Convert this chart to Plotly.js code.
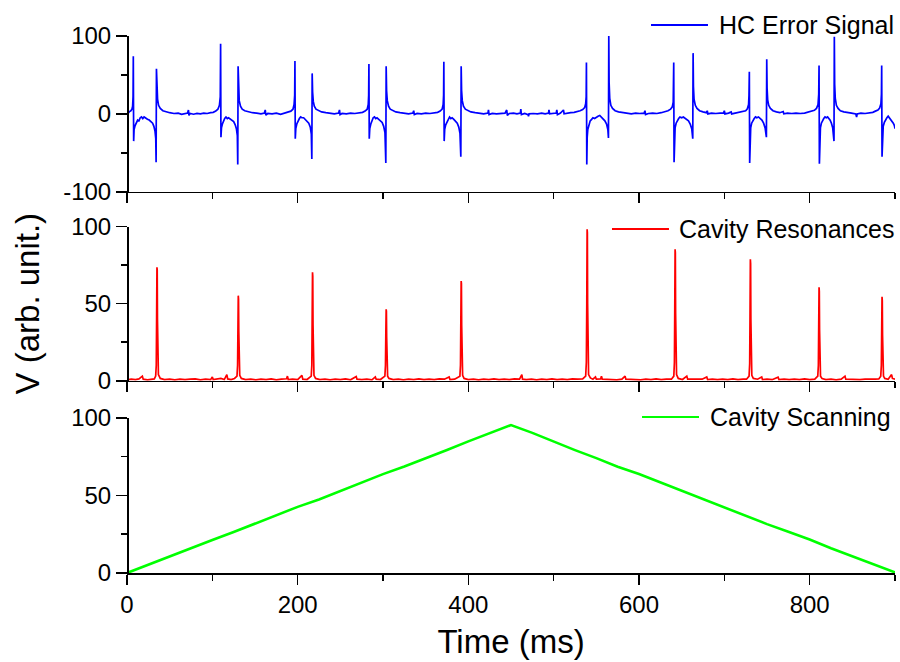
<!DOCTYPE html>
<html><head><meta charset="utf-8">
<script src="https://cdn.plot.ly/plotly-3.0.1.min.js"></script>
<style>html,body{margin:0;padding:0;background:#fff}#chart{width:900px;height:662px}</style>
</head><body><div id="chart"></div>
<script>
// ---- HC Error Signal (time in ms, value in arb. unit) ----
const errorTime = [0,1.5,3,4.5,5.8,6.6,7.1,7.4,7.8,8.3,9.5,11,12.5,14,15.5,17,18.5,20,22,24,26,28,30,31.5,32.8,33.7,34.1,34.5,35,35.8,37,39,42,46,50,55,
60,64,68,71,72,72.6,74,78,82,86,90,94,98,101,104,106.5,108.3,109.3,109.7,110.1,110.7,111.8,113,114.5,116,117.5,119,121,123,125,126.8,128.2,129.3,129.8,130.2,130.7,131.5,133,135,138,142,147,152,157,161,162,162.7,165,170,175,180,185,189,192,194.5,195.8,196.5,196.8,197.2,197.8,199,200.5,202,203.5,205,207,209,211,213,214.8,216,216.6,217,217.5,218.3,219.5,221.5,224.5,228,233,238,243,248,249,249.7,252,257,262,267,272,276,279,281.5,282.7,283.2,283.5,283.9,284.5,285.7,287,288.5,290,291.5,293,295,297,299,300.8,302.3,303.3,303.7,304.2,305,306.5,308.5,311.5,315,320,325,330,335,336,336.7,340,345,350,355,360,364,367,369.3,370.5,371,371.3,371.7,372.3,373.5,375,376.5,378,379.5,381,383,385,387,388.8,390.2,391.2,391.6,392.1,392.9,394.3,396.5,399.5,403,408,413,418,423,423.6,424.3,428,433,438,443,445,445.7,448,453,457,461,461.5,462.2,466,470,470.5,471.2,476,481,486,490,494,494.5,495.2,499,503,503.7,504.4,508,511.5,512.2,516,520,524,528,531,534,536.3,537.5,538.1,538.4,538.8,539.3,540,541.3,542.8,544.5,546,548,550,552,554,556,558,560,562,563.5,564.2,564.6,565,565.7,567,569,572,576,581,586,591,596,601,606,607,607.7,611,616,621,626,630,634,637,639,640.1,640.5,640.7,641.1,641.6,642.3,643.5,645,646.5,648,650,652,654,656,658,660,661.8,663,663.4,663.8,664.5,666,668,671,675,679,680,680.7,685,690,695,699,700,700.7,705,708,708.6,713,718,722,725,727,728.4,728.9,729.3,729.7,730.2,730.9,732,733.5,735,736.5,738,740,742,744,746,747.8,749.3,749.7,750.1,750.8,752,754,757,761,765,769,769.7,774,779,784,789,794,798,802,805.5,808,809.8,810.6,811,811.4,811.9,812.6,813.7,815,816.5,818,819.5,821,822.5,824,825.5,827,828.5,828.9,829.3,830,831.3,833.3,836,840,844,849,854,855,855.7,860,865,870,874,877,880,882,883.5,884.1,884.4,884.8,885.3,886.2,887.5,889,890.5,892,893.5,895,896.5,898,899.3,900];
const errorSignal = [1,1,3,4,6,10,22,74,-35,-20,-15,-12,-8,-9,-5,-4,-6,-4,-6,-7,-8,-10,-12,-16,-22,-32,-62,58,32,19,11,7,4,2.5,1.5,0.5,
1,-0.5,0.5,1,5,-2,0.5,-0.5,0.5,0,1,0.5,1.5,2,3.5,6,11,22,90,-30,-18,-13,-9,-6,-4,-6,-5,-7,-8,-10,-14,-19,-28,-65,61,30,17,10,6,4,2.5,1.5,1,0,1,5,-1.5,0.5,0,1,-0.5,1,2,3.5,6,12,24,68,-32,-19,-13,-9,-6,-4,-5,-5,-7,-9,-12,-17,-26,-58,52,28,16,10,6,4,2.5,1.5,1,0,1,5,-1,0.5,0,1,0.5,1,2,3.5,6,12,24,64,-32,-19,-13,-9,-5,-4,-6,-5,-7,-8,-11,-16,-24,-63,61,30,17,10,6,4,2.5,1.5,1,0,1,4,-1,0.5,0,1,0.5,1,2,3.5,6,12,24,67,-35,-20,-14,-10,-6,-4,-6,-5,-7,-9,-12,-17,-25,-55,61,30,17,10,6,4,2.5,1.5,1,0,1,5,-1,0.5,0,0.5,1,5,-2,0.5,1,0,1,6,-1,0.5,-1,-3,0,0.5,0,1,0,1,5,0,0.5,1,5,-1,1,5,0,1,1.5,2,3,4,5.5,8,13,22,66,-65,-30,-20,-13,-9,-7,-5,-6,-4,-3,-2,-4,-6,-9,-13,-20,-31,100,40,20,11,7,4,2.5,1.5,1,0,1,0.5,1,4,-1,0.5,1,0.5,1.5,2.5,4,6,9,15,30,66,-62,-28,-18,-12,-8,-6,-4,-5,-4,-6,-7,-9,-13,-19,-32,78,35,19,11,7,4,2.5,1.5,4,0,1,0.5,1,1,4,0,1,2.5,0,1,1.5,2.5,4,6.5,12,24,54,-63,-28,-18,-12,-8,-6,-4,-5,-4,-6,-8,-12,-18,-30,70,33,18,11,7,4,2.5,1.5,3,0,1,0.5,1,0.5,1,2,3,4.5,7,12,25,62,-64,-28,-18,-12,-8,-6,-4,-5,-4,-6,-8,-12,-18,-35,99,38,20,11,7,4,2.5,1.5,1,0,-4,0,1,0.5,1,2,3.5,5,7.5,13,25,62,-55,-25,-16,-11,-7,-5,-3,-5,-7,-9,-12,-15,-19];

// ---- Cavity Resonances ----
const resonanceTime = [0,5,10,14,18,19,24,29,32,33.6,34.3,34.7,35.1,35.4,35.7,36.1,36.8,39,44,50,56,62,68,74,80,86,92,98,100,101,106,110,114,117,118,122,126,128.9,129.6,130,130.4,130.7,131,131.4,132.1,134,139,145,151,157,163,169,175,181,187,188,189,194,200,205,206,211,215.9,216.6,217,217.4,217.7,218,218.4,219.1,221,226,232,238,244,250,256,262,268.6,269.5,275,281,287,291,292,297,302.2,302.9,303.3,303.7,304,304.3,304.7,305.4,307,312,318,324,330,336,342,348,354,360,366,372,377.5,378.5,384,390.1,390.8,391.2,391.6,391.9,392.2,392.6,393.3,395,400,406,412,418,424,430,436,442,448,454,460,462.7,463.5,468,474,480,486,492,498,504,510,516,522,528,534,537.5,538.3,538.8,539.2,539.5,539.8,540.2,540.9,543,546,549,550,555,556,557,562,568,574,580,583.7,584.6,590,596,602,608,614,620,626,632,638,640.8,641.5,641.9,642.3,642.6,642.9,643.3,644,646,651,656,657,662,668,674,679.4,680.4,686,692,698,704,710,716,722,726,729,729.7,730.1,730.5,730.8,731.1,731.5,732.2,734,739,743.8,744.7,750,756,763,764,770,776,782,788,794,800,806,809.5,810.2,810.6,811,811.3,811.6,812,812.7,814.5,819,825,831,837,841.4,842.3,847,853,859,865,871,877,881,883.3,884,884.4,884.8,885.1,885.4,885.8,886.5,888,892,896,897,900];
const resonanceSignal = [0.5,1,0.8,1.2,3,1,0.6,1,1.2,3,10,40,73.6,72,40,12,4,1.5,0.8,1,0.6,1,0.7,1,1.2,0.6,1,0.7,2.5,0.8,1,1.5,0.8,4,1.2,0.8,1.5,3,10,38,55.2,53,32,10,3.5,1.5,0.8,1,0.6,1,0.8,1.2,0.6,1,1.3,3,0.8,1,0.7,3.5,1,0.8,3,10,40,70.4,68,36,11,3.5,1.5,0.8,1,0.6,1,0.8,1.2,0.6,2.8,1,0.8,1,0.6,2.5,1,0.8,3,10,30,46.4,45,28,9,3,1.5,0.8,1,0.6,1,0.8,1.2,0.7,1,0.8,1.2,1,2.5,0.8,1,3,10,38,64.7,63,36,11,3.5,1.5,0.8,1,0.6,1,0.8,1.2,0.7,1,0.8,1.2,1,4,1,0.8,1,0.6,1,0.8,1.2,0.7,1,0.8,1.2,1,1.2,3,12,50,98.3,96,50,14,4,1.8,1,2.5,1,1.2,3,1,0.8,1,0.6,1,3,1,0.8,1,0.6,1,0.8,1.2,0.7,1,1,3,12,45,85.3,83,44,13,4,1.5,0.8,3,1,1,0.8,1,2.5,0.8,1,0.7,1,0.8,1.2,0.7,1,1,3,11,42,78.8,76,40,12,3.5,1.5,1,2.5,0.8,1,0.7,2.3,0.8,1,0.7,1,0.8,1.2,0.8,1,3,10,35,60.6,58,33,10,3,1.5,0.8,1,0.6,1,3,1,0.8,1,0.7,1,0.8,1,1.2,3,10,32,54.5,52,30,9,3,1.5,1,4,1.5,1];

// ---- Cavity Scanning ----
const scanTime = [0,25,50,75,100,125,150,175,200,225,250,275,300,325,350,375,400,425,450,475,500,525,550,575,600,625,650,675,700,725,750,775,800,825,850,875,900];
const scanSignal = [0,5.4,10.8,15.7,21.3,26.4,31.9,37.2,42.6,47.4,53.0,58.1,63.7,68.6,74.2,79.3,84.8,89.9,95.3,90.3,84.6,79.2,74.0,68.5,63.8,58.4,52.9,47.8,42.2,37.1,31.5,26.6,21.6,16.0,10.9,5.3,0.4];

// ---- series names / colours, ticks ----
const seriesNames = ['HC Error Signal', 'Cavity Resonances', 'Cavity Scanning'];
const seriesColors = ['#0000ff', '#ff0000', '#00ff00'];
const xTickVals = [0,200,400,600,800];
const xTickText = ['0','200','400','600','800'];
const xMinorVals = [100,300,500,700,900];
const errTickVals = [-100,0,100];
const errTickText = ['-100','0','100'];
const errMinorVals = [-50,50];
const posTickVals = [0,50,100];
const posTickText = ['0','50','100'];
const posMinorVals = [25,75];

const FONT = 'Liberation Sans, Arial, sans-serif';
const AX = 1.6;
const TICKFONT = {family: FONT, size: 24, color: '#000'};

function xAxis(anchor, labels) {
  const a = {
    anchor: anchor, range: [0, 900], showgrid: false, zeroline: false,
    showline: true, linecolor: '#000', linewidth: AX, mirror: false,
    ticks: 'outside', ticklen: 10, tickwidth: AX, tickcolor: '#000',
    tickmode: 'array', tickvals: xTickVals, ticktext: xTickText,
    showticklabels: labels, tickfont: TICKFONT,
    minor: {tickmode: 'array', tickvals: xMinorVals, ticks: 'outside', ticklen: 6, tickwidth: AX, tickcolor: '#000', showgrid: false},
    fixedrange: true
  };
  if (anchor !== 'y3') a.matches = 'x3';
  return a;
}
function yAxis(domain, range, tv, tt, mv) {
  return {
    domain: domain, range: range, anchor: 'free', position: 0,
    showgrid: false, zeroline: false, showline: true, linecolor: '#000', linewidth: AX,
    ticks: 'outside', ticklen: 11, tickwidth: AX, tickcolor: '#000',
    tickmode: 'array', tickvals: tv, ticktext: tt, tickfont: TICKFONT,
    minor: {tickmode: 'array', tickvals: mv, ticks: 'outside', ticklen: 6, tickwidth: AX, tickcolor: '#000', showgrid: false},
    fixedrange: true
  };
}

const data = [
  {x: errorTime, y: errorSignal, xaxis: 'x', yaxis: 'y', type: 'scatter', mode: 'lines',
   name: seriesNames[0], line: {color: seriesColors[0], width: 1.7}},
  {x: resonanceTime, y: resonanceSignal, xaxis: 'x2', yaxis: 'y2', type: 'scatter', mode: 'lines',
   name: seriesNames[1], line: {color: seriesColors[1], width: 1.7}},
  {x: scanTime, y: scanSignal, xaxis: 'x3', yaxis: 'y3', type: 'scatter', mode: 'lines',
   name: seriesNames[2], line: {color: seriesColors[2], width: 2.6}}
];

// in-panel legend keys (line sample + label), placed in paper coordinates
const legendPlace = [
  {x0: 0.6823, x1: 0.7565, tx: 0.7682, y: 1.0205},
  {x0: 0.6315, x1: 0.7057, tx: 0.7161, y: 0.6406},
  {x0: 0.6706, x1: 0.7448, tx: 0.7565, y: 0.2905}
];
const shapes = legendPlace.map((p, i) => ({
  type: 'line', xref: 'paper', yref: 'paper', x0: p.x0, x1: p.x1, y0: p.y, y1: p.y,
  line: {color: seriesColors[i], width: 1.8}
}));
const annotations = legendPlace.map((p, i) => ({
  xref: 'paper', yref: 'paper', x: p.tx, y: p.y, xanchor: 'left', yanchor: 'middle',
  text: seriesNames[i], showarrow: false, font: {family: FONT, size: 25, color: '#000'}
}));

const y2 = yAxis([0.358, 0.645], [0, 100], posTickVals, posTickText, posMinorVals);
y2.title = {text: 'V (arb. unit.)', font: {family: FONT, size: 33, color: '#000'}, standoff: 20};

const x3 = xAxis('y3', true);
x3.title = {text: 'Time (ms)', font: {family: FONT, size: 33, color: '#000'}, standoff: 12};

const layout = {
  width: 900, height: 662,
  margin: {l: 127, r: 5, t: 36, b: 89},
  paper_bgcolor: '#fff', plot_bgcolor: 'rgba(0,0,0,0)',
  showlegend: false, hovermode: false,
  font: {family: FONT, color: '#000'},
  xaxis: xAxis('y', false),
  xaxis2: xAxis('y2', false),
  xaxis3: x3,
  yaxis: yAxis([0.710, 1], [-100, 100], errTickVals, errTickText, errMinorVals),
  yaxis2: y2,
  yaxis3: yAxis([0, 0.289], [0, 100], posTickVals, posTickText, posMinorVals),
  shapes: shapes,
  annotations: annotations
};

Plotly.newPlot('chart', data, layout, {staticPlot: true, displayModeBar: false});
</script>
</body></html>
